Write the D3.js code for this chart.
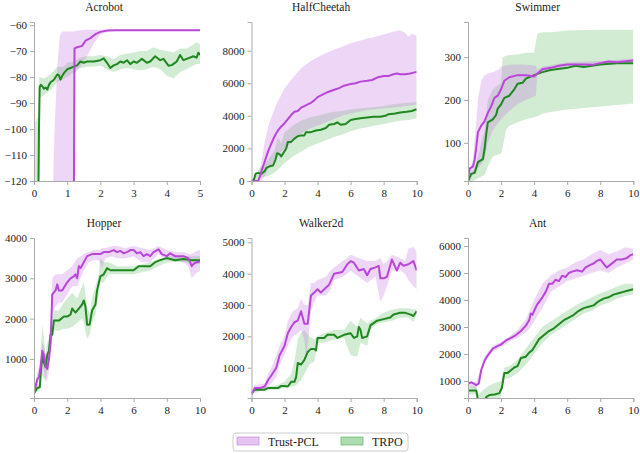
<!DOCTYPE html>
<html>
<head>
<meta charset="utf-8">
<script src="https://cdn.jsdelivr.net/npm/d3@7"></script>
<style>
  body { margin: 0; background: #fff; }
  text { font-family: "Liberation Serif", serif; fill: #222; }
</style>
</head>
<body>
<div id="vis"></div>
<script>
// ----------DATA-----------------------------------------
// means are [x, y], bands are [x, low, high]

const acrobotPcl = [[0,-130],[1.2,-130],[1.22,-69],[1.3,-68.5],[1.45,-68],[1.55,-66],[1.7,-65],[1.85,-63.5],[2.0,-62.6],[2.2,-62.1],[2.5,-62],[5,-62]];
const acrobotPclBand = [[0.58,-130,-118],[0.62,-130,-100],[0.7,-130,-76],[0.78,-130,-64],[0.85,-130,-62.5],[1.2,-130,-62.5],[1.23,-78,-62.3],[1.4,-76,-62],[1.6,-72,-61.8],[1.8,-67,-61.8],[2.0,-63.5,-61.8],[2.3,-62.3,-61.8],[5,-62.2,-61.8]];
const acrobotTrpo = [[0,-130],[0.13,-130],[0.15,-100],[0.17,-84],[0.2,-83],[0.25,-83.5],[0.3,-84.5],[0.35,-84],[0.4,-84.8],[0.45,-83],[0.5,-82],[0.6,-81],[0.7,-79],[0.75,-79.3],[0.8,-81],[0.85,-79.5],[0.9,-78.5],[1.0,-77],[1.1,-76.5],[1.2,-76],[1.3,-75.5],[1.4,-74],[1.5,-74.5],[1.6,-74],[1.8,-74],[2.0,-73.5],[2.1,-72.8],[2.2,-74.5],[2.3,-76.5],[2.4,-75.5],[2.5,-75],[2.6,-74],[2.7,-74.5],[2.8,-73.5],[2.9,-75],[3.0,-74],[3.1,-74.5],[3.25,-73],[3.4,-74.5],[3.5,-74],[3.65,-72],[3.8,-73.5],[3.9,-73],[4.0,-74.7],[4.05,-75.6],[4.15,-75.4],[4.3,-74],[4.4,-71.5],[4.5,-73.5],[4.6,-73],[4.8,-72],[4.9,-72.5],[4.95,-70.6],[5.0,-71.5]];
const acrobotTrpoBand = [[0,-130,-98],[0.14,-130,-95],[0.16,-88,-80],[0.3,-87,-80.5],[0.5,-85,-79],[0.7,-82,-76],[0.9,-80.5,-76],[1.0,-80,-74.5],[1.2,-78,-74],[1.4,-76.5,-72.5],[1.6,-76,-72],[1.8,-76,-72],[2.0,-75.5,-71.5],[2.2,-77,-72],[2.4,-78,-73],[2.6,-77,-71.5],[2.8,-76.5,-71],[3.0,-77,-70.5],[3.2,-77.5,-70],[3.4,-77,-70],[3.6,-76,-68.5],[3.8,-77,-69.5],[4.0,-79.5,-70],[4.2,-80.5,-70.5],[4.4,-78,-69],[4.6,-77,-69],[4.8,-75.5,-67.5],[4.9,-75,-66.5],[5.0,-75,-67.5]];

const cheetahPcl = [[0,0],[0.4,0],[0.5,250],[0.6,600],[0.8,1200],[1.0,1800],[1.2,2300],[1.4,2750],[1.6,3100],[1.8,3350],[2.0,3550],[2.2,3800],[2.4,4050],[2.6,4250],[2.8,4300],[3.0,4500],[3.2,4600],[3.4,4700],[3.6,4800],[3.8,4950],[4.0,5150],[4.3,5300],[4.6,5450],[5.0,5600],[5.3,5700],[5.6,5850],[6.0,5950],[6.3,6000],[6.6,6100],[7.0,6150],[7.3,6200],[7.6,6350],[8.0,6450],[8.3,6450],[8.6,6550],[8.8,6600],[9.0,6550],[9.3,6550],[9.6,6600],[10,6700]];
const cheetahPclBand = [[0,0,0],[0.4,0,100],[0.6,0,1200],[0.8,300,2400],[1.0,700,3300],[1.2,1000,3900],[1.5,1400,4700],[1.8,1800,5300],[2.0,2000,5700],[2.4,2300,6200],[2.6,2600,6450],[3.0,2900,6900],[3.5,3200,7300],[4.0,3400,7600],[4.5,3600,7850],[5.0,3800,8050],[5.5,4000,8250],[6.0,4150,8450],[6.5,4250,8600],[7.0,4350,8750],[7.5,4400,8850],[8.0,4450,9000],[8.5,4500,9150],[9.0,4550,9250],[9.3,4600,9100],[9.5,4600,8850],[9.7,4650,9050],[10,4700,8900]];
const cheetahTrpo = [[0,0],[0.15,100],[0.25,450],[0.4,500],[0.6,450],[0.8,600],[0.9,800],[1.1,900],[1.3,950],[1.45,1300],[1.55,1700],[1.7,1650],[1.8,1500],[1.95,1750],[2.1,2000],[2.2,2400],[2.4,2400],[2.6,2600],[2.8,2750],[3.0,2800],[3.2,2800],[3.3,3000],[3.6,3000],[3.9,3100],[4.2,3150],[4.5,3250],[4.7,3450],[5.0,3500],[5.2,3600],[5.4,3450],[5.7,3500],[6.0,3750],[6.3,3800],[6.6,3850],[7.0,3900],[7.4,3950],[7.8,3950],[8.1,4000],[8.3,4100],[8.7,4150],[9.0,4200],[9.4,4250],[9.7,4300],[10,4400]];
const cheetahTrpoBand = [[0,0,0],[0.2,0,300],[0.5,200,800],[1.0,300,1300],[1.4,500,1900],[1.6,700,2700],[1.8,900,2300],[2.0,1100,3000],[2.5,1500,3400],[3.0,1800,3700],[3.5,2100,3900],[4.0,2300,4000],[4.5,2500,4150],[5.0,2700,4250],[5.5,2850,4300],[6.0,3050,4400],[6.5,3200,4450],[7.0,3300,4500],[7.5,3400,4550],[8.0,3500,4600],[8.5,3600,4700],[9.0,3700,4750],[9.5,3750,4800],[10,3850,4850]];

const swimmerPcl = [[0,15],[0.1,40],[0.3,45],[0.4,60],[0.5,90],[0.6,125],[0.8,140],[1.0,150],[1.2,170],[1.4,185],[1.6,205],[1.8,210],[2.0,225],[2.2,245],[2.5,253],[3.0,258],[3.5,258],[4.0,255],[4.2,262],[4.5,272],[5.0,275],[5.5,280],[6.0,283],[7.0,283],[7.5,282],[8.0,286],[8.5,290],[9.0,288],[10,292]];
const swimmerPclBand = [[0,10,20],[0.3,25,60],[0.5,30,150],[0.6,40,200],[0.8,50,245],[1.0,60,258],[1.2,100,262],[1.5,130,265],[1.9,150,272],[2.0,155,278],[2.5,175,282],[3.0,190,283],[3.5,200,282],[4.1,210,280],[4.2,258,270],[4.5,266,278],[5.0,270,281],[6.0,278,288],[8.0,281,291],[10,287,297]];
const swimmerTrpo = [[0,10],[0.2,28],[0.4,30],[0.6,55],[0.9,62],[1.0,85],[1.1,120],[1.2,148],[1.5,155],[1.7,165],[1.8,180],[2.0,190],[2.2,205],[2.5,210],[2.8,225],[3.0,238],[3.3,240],[3.5,250],[4.0,258],[4.5,265],[5.0,270],[6.0,275],[6.5,280],[7.0,277],[8.0,283],[9.0,286],[10,286]];
const swimmerTrpoBand = [[0,5,15],[0.5,15,50],[1.0,25,130],[1.2,45,200],[1.5,68,225],[2.0,75,240],[2.1,90,300],[2.3,130,303],[2.5,140,305],[3.0,148,306],[3.5,155,310],[4.0,160,310],[4.2,162,355],[4.5,168,358],[5.0,172,358],[6.0,178,362],[8.0,185,364],[9.5,190,364],[10,192,364]];

const hopperPcl = [[0,150],[0.2,500],[0.3,550],[0.4,800],[0.5,1200],[0.6,1100],[0.7,800],[0.8,750],[0.9,1000],[1.0,1400],[1.1,2600],[1.2,2650],[1.3,2700],[1.4,2850],[1.5,2700],[1.7,2700],[2.0,2900],[2.2,3000],[2.4,3050],[2.5,3100],[2.6,3000],[2.7,3300],[2.8,3250],[3.0,3400],[3.2,3550],[3.5,3600],[4.0,3600],[4.2,3650],[4.5,3650],[4.8,3700],[5.0,3650],[5.2,3680],[5.4,3620],[5.6,3650],[5.8,3700],[6.0,3700],[6.2,3620],[6.4,3650],[6.6,3550],[6.8,3600],[7.0,3550],[7.2,3650],[7.5,3720],[7.7,3600],[8.0,3550],[8.2,3620],[8.5,3550],[9.0,3550],[9.3,3500],[9.5,3300],[9.6,3350],[9.8,3400],[10,3420]];
const hopperPclBand = [[0,100,200],[0.2,350,650],[0.4,600,1000],[0.5,900,1400],[0.6,700,1300],[0.7,400,1100],[0.8,500,1000],[0.9,700,1300],[1.0,1100,1800],[1.1,2100,3000],[1.3,2300,3100],[1.5,2400,3100],[1.7,2400,3100],[2.0,2600,3200],[2.3,2800,3300],[2.6,2800,3500],[2.8,3000,3550],[3.0,3200,3600],[3.3,3400,3650],[3.6,3450,3700],[3.9,3450,3700],[4.1,3250,3750],[4.3,3500,3750],[4.7,3550,3800],[5.0,3500,3800],[5.5,3500,3750],[6.0,3550,3800],[6.5,3400,3750],[7.0,3400,3700],[7.5,3600,3800],[8.0,3450,3700],[8.5,3450,3650],[9.0,3400,3650],[9.3,3300,3600],[9.5,3000,3600],[9.7,3100,3650],[10,3200,3700]];
const hopperTrpo = [[0,150],[0.2,280],[0.35,300],[0.4,600],[0.5,1100],[0.6,900],[0.7,800],[0.8,1100],[0.9,1200],[1.0,1600],[1.1,1600],[1.2,1950],[1.5,1950],[1.8,2050],[2.0,2050],[2.2,2100],[2.3,2250],[2.5,2150],[2.7,2250],[2.9,2350],[3.0,2450],[3.1,2300],[3.2,1850],[3.35,1850],[3.5,2200],[3.7,2350],[3.8,2700],[4.0,3050],[4.2,3100],[4.4,3250],[4.6,3200],[5.0,3200],[5.5,3200],[6.0,3200],[6.3,3300],[7.0,3300],[7.3,3400],[7.6,3450],[8.0,3500],[8.5,3450],[9.0,3480],[9.5,3450],[10,3450]];
const hopperTrpoBand = [[0,100,200],[0.2,200,350],[0.35,250,400],[0.4,400,1200],[0.5,600,1850],[0.6,500,1500],[0.7,500,1100],[0.8,800,1400],[0.9,900,1500],[1.0,1300,1900],[1.2,1700,2200],[1.5,1700,2200],[1.8,1750,2400],[2.0,1750,2500],[2.3,1800,2650],[2.6,1900,2500],[2.9,2000,2800],[3.0,1900,2900],[3.2,1500,2300],[3.35,1600,2100],[3.5,1900,2500],[3.7,2100,2800],[3.9,2600,3100],[4.0,2900,3500],[4.2,2900,3400],[4.5,3100,3400],[5.0,3100,3300],[6.0,3100,3300],[7.0,3200,3400],[8.0,3400,3550],[9.0,3400,3550],[10,3350,3550]];

const walkerPcl = [[0,150],[0.2,350],[0.5,350],[0.8,400],[1.0,600],[1.2,750],[1.5,1000],[1.7,1400],[2.0,1700],[2.2,2100],[2.4,2300],[2.6,2450],[2.8,2500],[3.0,2800],[3.2,2400],[3.4,2400],[3.6,3300],[3.8,3400],[4.0,3500],[4.2,3400],[4.5,3550],[4.7,3650],[5.0,4000],[5.5,4050],[5.8,4300],[6.0,4400],[6.2,4350],[6.5,4100],[6.8,4150],[7.0,3950],[7.2,4150],[7.5,4200],[7.7,4250],[7.8,3850],[8.0,3850],[8.2,3900],[8.5,4450],[8.8,4100],[9.0,4350],[9.2,4250],[9.5,4300],[9.8,4400],[10,4100]];
const walkerPclBand = [[0,100,300],[0.2,250,450],[0.8,300,500],[1.0,400,800],[1.2,500,1000],[1.5,700,1400],[1.7,1100,1700],[2.0,1400,2000],[2.2,1700,2500],[2.5,2000,2800],[2.8,2100,2900],[3.0,2200,3200],[3.2,1900,3000],[3.3,1300,3000],[3.4,1700,3000],[3.6,2800,3700],[3.8,3100,3700],[4.0,3300,3800],[4.5,3300,3900],[4.8,3500,4100],[5.0,3800,4200],[5.5,3900,4400],[5.8,4000,4500],[6.0,4100,4600],[6.5,3900,4500],[7.0,3700,4400],[7.5,3900,4400],[7.8,3100,4500],[8.0,3300,4300],[8.2,3600,4400],[8.5,4100,4600],[9.0,4100,4500],[9.3,4000,4400],[9.5,3800,4800],[9.8,3600,4850],[10,3500,4700]];
const walkerTrpo = [[0,200],[0.2,300],[0.8,300],[1.0,350],[1.6,350],[1.8,420],[2.0,420],[2.2,400],[2.4,550],[2.6,550],[2.7,700],[2.8,1150],[3.0,1100],[3.2,1250],[3.4,1500],[3.6,1600],[3.8,1600],[3.9,1550],[4.0,1950],[4.4,1950],[4.6,2050],[5.0,2050],[5.2,1950],[5.6,2050],[6.0,2100],[6.2,1950],[6.4,2000],[6.5,2300],[6.6,2200],[6.7,1950],[7.0,2000],[7.2,2350],[7.6,2500],[8.0,2550],[8.4,2600],[8.6,2700],[9.0,2750],[9.3,2750],[9.6,2700],[9.8,2650],[10,2800]];
const walkerTrpoBand = [[0,150,250],[0.5,250,350],[1.0,300,400],[1.6,300,450],[2.0,350,550],[2.4,400,800],[2.6,400,1200],[2.8,500,1900],[3.0,600,2100],[3.2,800,2200],[3.5,1100,2000],[3.8,1200,1900],[4.0,1800,2000],[4.4,1800,2100],[5.0,1900,2200],[5.6,1950,2200],[6.0,1400,2500],[6.4,1350,2300],[6.6,1800,2600],[7.0,1700,2400],[7.2,2200,2500],[7.6,2400,2600],[8.0,2450,2750],[8.5,2500,2850],[9.0,2600,2900],[9.5,2600,2900],[9.8,2450,2850],[10,2700,2900]];

const antPcl = [[0,900],[0.2,950],[0.35,900],[0.5,850],[0.65,900],[0.8,1400],[1.0,1750],[1.2,1950],[1.5,2200],[1.8,2300],[2.0,2350],[2.3,2500],[2.6,2600],[2.9,2700],[3.2,2850],[3.5,3050],[3.7,3250],[3.8,3500],[3.9,3450],[4.0,3600],[4.2,3850],[4.5,4100],[4.7,4300],[4.9,4600],[5.1,4600],[5.3,4750],[5.5,4700],[5.7,4900],[5.9,4850],[6.1,5000],[6.3,5050],[6.6,5100],[6.9,5050],[7.1,5200],[7.4,5300],[7.6,5350],[7.8,5450],[8.0,5500],[8.2,5350],[8.4,5200],[8.6,5300],[8.8,5400],[9.0,5500],[9.3,5500],[9.6,5550],[9.8,5650],[10,5700]];
const antPclBand = [[0,800,1000],[0.5,700,950],[0.8,1300,1500],[1.0,1700,1900],[1.5,2100,2300],[2.0,2250,2450],[2.5,2450,2650],[3.0,2600,2900],[3.5,2800,3300],[3.8,3000,3700],[4.0,3200,4000],[4.5,3700,4600],[5.0,4300,4900],[5.5,4500,5100],[6.0,4700,5200],[6.5,4800,5400],[7.0,4900,5500],[7.5,5000,5700],[8.0,5100,5850],[8.5,5000,5700],[9.0,5200,5800],[9.5,5350,5950],[10,5500,5900]];
const antTrpo = [[0,650],[0.5,650],[0.55,500],[0.6,250],[1.0,250],[1.1,400],[1.3,480],[1.6,500],[1.9,550],[2.05,750],[2.2,1300],[2.4,1300],[2.6,1400],[2.8,1500],[3.0,1550],[3.2,1850],[3.5,1900],[3.7,2050],[3.9,2150],[4.1,2350],[4.3,2550],[4.6,2700],[4.9,2850],[5.2,2950],[5.5,3100],[5.8,3250],[6.1,3350],[6.4,3450],[6.7,3600],[7.0,3700],[7.3,3750],[7.6,3800],[7.9,3950],[8.2,4050],[8.5,4100],[8.8,4200],[9.1,4250],[9.4,4300],[9.7,4350],[10,4400]];
const antTrpoBand = [[0,500,800],[0.5,500,800],[0.6,200,500],[1.0,200,700],[1.2,300,800],[1.5,300,900],[2.0,400,1000],[2.2,1100,1500],[2.5,1100,1550],[3.0,1300,1800],[3.5,1600,2200],[4.0,2000,2600],[4.5,2400,3000],[5.0,2700,3200],[5.5,2900,3400],[6.0,3100,3600],[6.5,3300,3800],[7.0,3500,3950],[7.5,3600,4100],[8.0,3800,4250],[8.5,3900,4350],[9.0,4050,4500],[9.5,4150,4600],[10,4200,4600]];

const TITLES = ["Acrobot", "HalfCheetah", "Swimmer", "Hopper", "Walker2d", "Ant"];
const X_MAX = [5, 10, 10, 10, 10, 10];
const Y_LIMS = [[-120, -58.8], [0, 9760], [11, 382], [30, 4000], [34, 5137], [370, 6296]];
const Y_TICKS = [[-120,-110,-100,-90,-80,-70,-60], [0,2000,4000,6000,8000], [100,200,300], [1000,2000,3000,4000], [1000,2000,3000,4000,5000], [1000,2000,3000,4000,5000,6000]];
const LEGEND_LABELS = ["Trust-PCL", "TRPO"];

// ----------CONSTANTS FOR PAGE SETUP----------------
const FRAME_WIDTH = 640;
const FRAME_HEIGHT = 453;
const COL_X = [[34, 200], [251.5, 416.7], [468, 633.3]];
const ROW_Y = [[22, 181], [238, 398]];
const PCL_LINE = "#b846d9";
const PCL_FILL = "#c77be0";
const TRPO_LINE = "#1f871f";
const TRPO_FILL = "#4caf50";

const panels = [
  { pcl: acrobotPcl, pclBand: acrobotPclBand, trpo: acrobotTrpo, trpoBand: acrobotTrpoBand },
  { pcl: cheetahPcl, pclBand: cheetahPclBand, trpo: cheetahTrpo, trpoBand: cheetahTrpoBand },
  { pcl: swimmerPcl, pclBand: swimmerPclBand, trpo: swimmerTrpo, trpoBand: swimmerTrpoBand },
  { pcl: hopperPcl, pclBand: hopperPclBand, trpo: hopperTrpo, trpoBand: hopperTrpoBand },
  { pcl: walkerPcl, pclBand: walkerPclBand, trpo: walkerTrpo, trpoBand: walkerTrpoBand },
  { pcl: antPcl, pclBand: antPclBand, trpo: antTrpo, trpoBand: antTrpoBand }
];

const FRAME = d3.select("#vis")
  .append("svg")
  .attr("width", FRAME_WIDTH)
  .attr("height", FRAME_HEIGHT);

// ---------ONE PANEL-------------
function build_panel(p, i) {
  const col = i % 3, row = Math.floor(i / 3);
  const x = d3.scaleLinear().domain([0, X_MAX[i]]).range(COL_X[col]);
  const y = d3.scaleLinear().domain(Y_LIMS[i]).range([ROW_Y[row][1], ROW_Y[row][0]]);
  const g = FRAME.append("g");

  g.append("clipPath").attr("id", "clip" + i)
    .append("rect")
    .attr("x", COL_X[col][0]).attr("y", ROW_Y[row][0])
    .attr("width", COL_X[col][1] - COL_X[col][0])
    .attr("height", ROW_Y[row][1] - ROW_Y[row][0]);

  const plot = g.append("g").attr("clip-path", "url(#clip" + i + ")");
  const area = d3.area().x(d => x(d[0])).y0(d => y(d[1])).y1(d => y(d[2]));
  const line = d3.line().x(d => x(d[0])).y(d => y(d[1]));

  plot.append("path").datum(p.trpoBand).attr("d", area)
    .attr("fill", TRPO_FILL).attr("fill-opacity", 0.25);
  plot.append("path").datum(p.pclBand).attr("d", area)
    .attr("fill", PCL_FILL).attr("fill-opacity", 0.3);
  plot.append("path").datum(p.trpo).attr("d", line)
    .attr("fill", "none").attr("stroke", TRPO_LINE).attr("stroke-width", 2).attr("stroke-linejoin", "round");
  plot.append("path").datum(p.pcl).attr("d", line)
    .attr("fill", "none").attr("stroke", PCL_LINE).attr("stroke-width", 2).attr("stroke-linejoin", "round");

  const xAxis = g.append("g")
    .attr("transform", `translate(0,${ROW_Y[row][1]})`)
    .call(d3.axisBottom(x).tickValues(d3.range(0, X_MAX[i] + 0.001, X_MAX[i] === 5 ? 1 : 2)).tickSize(4).tickPadding(4).tickFormat(d3.format("d")));
  const yAxis = g.append("g")
    .attr("transform", `translate(${COL_X[col][0]},0)`)
    .call(d3.axisLeft(y).tickValues(Y_TICKS[i]).tickSize(4).tickPadding(3).tickFormat(d3.format("d")));

  [xAxis, yAxis].forEach(a => {
    a.select(".domain").attr("stroke", "#aaa");
    a.selectAll(".tick line").attr("stroke", "#aaa");
    a.selectAll("text").style("font-family", "Liberation Serif").style("font-size", "11px").attr("fill", "#222");
  });

  g.append("text")
    .attr("x", (COL_X[col][0] + COL_X[col][1]) / 2 - 13)
    .attr("y", row === 0 ? 11 : 227)
    .attr("text-anchor", "middle")
    .style("font-size", "11.5px")
    .text(TITLES[i]);
}

panels.forEach(build_panel);

// ---------LEGEND-------------
const legend = FRAME.append("g");
legend.append("rect")
  .attr("x", 233).attr("y", 433).attr("width", 175).attr("height", 18).attr("rx", 3)
  .attr("fill", "#fff").attr("stroke", "#ccc");
const LEG_X = [237, 341];
[[PCL_FILL, PCL_LINE, 0.45], [TRPO_FILL, TRPO_LINE, 0.45]].forEach((c, k) => {
  legend.append("rect")
    .attr("x", LEG_X[k]).attr("y", 437).attr("width", 22).attr("height", 8)
    .attr("fill", c[0]).attr("fill-opacity", c[2])
    .attr("stroke", c[0]).attr("stroke-opacity", 0.6);
  legend.append("text")
    .attr("x", LEG_X[k] + 31).attr("y", 445.5)
    .style("font-size", "12px")
    .text(LEGEND_LABELS[k]);
});
</script>
</body>
</html>
